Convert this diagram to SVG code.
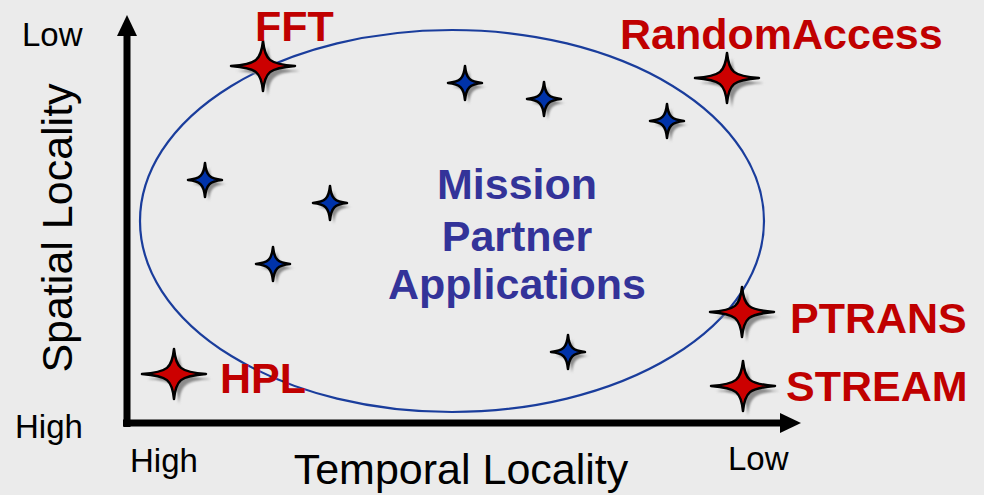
<svg xmlns="http://www.w3.org/2000/svg" width="984" height="495" viewBox="0 0 984 495">
  <defs>
    <style>
      .axis-label { font-family: "Liberation Sans", Arial, sans-serif; fill: #000; }
      .bench { font-family: "Liberation Sans", Arial, sans-serif; font-weight: bold; font-size: 43px; fill: #c00000; }
      .mission { font-family: "Liberation Sans", Arial, sans-serif; font-weight: bold; font-size: 43px; fill: #333399; text-anchor: middle; }
      .star-big { fill: #cc0000; stroke: #000; stroke-width: 2.5; stroke-linejoin: round; }
      .star-small { fill: #0033aa; stroke: #000; stroke-width: 2.5; stroke-linejoin: round; }
      .shadow { fill: #8c8c8c; stroke: none; filter: url(#soft); }
    </style>
    <filter id="soft" x="-20%" y="-20%" width="140%" height="140%">
      <feGaussianBlur stdDeviation="1"/>
    </filter>
    <!-- four-pointed concave star shapes -->
    <path id="bigStar" d="M0,-25 C2,-6 6,-2 32,0 C6,2 2,6 0,25 C-2,6 -6,2 -32,0 C-6,-2 -2,-6 0,-25 Z"/>
    <path id="smallStar" d="M0,-17 C1.3,-4.5 4.5,-1.3 17,0 C4.5,1.3 1.3,4.5 0,17 C-1.3,4.5 -4.5,1.3 -17,0 C-4.5,-1.3 -1.3,-4.5 0,-17 Z"/>
  </defs>

  <rect width="984" height="495" fill="#ebebeb"/>

  <!-- application region -->
  <g id="region">
    <ellipse cx="452" cy="221" rx="312" ry="191" fill="none" stroke="#1a3d9c" stroke-width="2.2"/>
  </g>

  <!-- axes -->
  <g id="connectors">
    <path d="M127,427 L127,35" fill="none" stroke="#000" stroke-width="7"/>
    <path d="M117,36 L127,15 L137,36 Z" fill="#000"/>
    <path d="M123,423 L781,423" fill="none" stroke="#000" stroke-width="7"/>
    <path d="M780,413 L801,423 L780,433 Z" fill="#000"/>
  </g>

  <!-- axis labels -->
  <g id="axis-labels">
    <text class="axis-label" x="22" y="46" font-size="33">Low</text>
    <text class="axis-label" x="15" y="438" font-size="33">High</text>
    <text class="axis-label" x="130" y="472" font-size="33">High</text>
    <text class="axis-label" x="728" y="470" font-size="33">Low</text>
    <text class="axis-label" x="461" y="484" font-size="43" text-anchor="middle">Temporal Locality</text>
    <text class="axis-label" transform="translate(72,228) rotate(-90)" font-size="43" text-anchor="middle">Spatial Locality</text>
  </g>

  <!-- benchmark nodes -->
  <g id="fft">
    <use href="#bigStar" class="shadow" x="268" y="71"/>
    <use href="#bigStar" class="star-big" x="263" y="66"/>
    <text class="bench" x="255" y="41">FFT</text>
  </g>
  <g id="randomaccess">
    <use href="#bigStar" class="shadow" x="732" y="83"/>
    <use href="#bigStar" class="star-big" x="727" y="78"/>
    <text class="bench" x="620" y="49">RandomAccess</text>
  </g>
  <g id="ptrans">
    <use href="#bigStar" class="shadow" x="747" y="317"/>
    <use href="#bigStar" class="star-big" x="742" y="312"/>
    <text class="bench" x="790" y="333">PTRANS</text>
  </g>
  <g id="stream">
    <use href="#bigStar" class="shadow" x="748" y="391"/>
    <use href="#bigStar" class="star-big" x="743" y="386"/>
    <text class="bench" x="786" y="401">STREAM</text>
  </g>
  <g id="hpl">
    <use href="#bigStar" class="shadow" x="179" y="379"/>
    <use href="#bigStar" class="star-big" x="174" y="374"/>
    <text class="bench" x="220" y="393">HPL</text>
  </g>

  <!-- mission partner applications -->
  <g id="mission-label">
    <text class="mission" x="517" y="199">Mission</text>
    <text class="mission" x="517" y="251">Partner</text>
    <text class="mission" x="517" y="299">Applications</text>
  </g>
  <g id="app-1">
    <use href="#smallStar" class="shadow" x="209" y="184"/>
    <use href="#smallStar" class="star-small" x="205" y="180"/>
  </g>
  <g id="app-2">
    <use href="#smallStar" class="shadow" x="469" y="87"/>
    <use href="#smallStar" class="star-small" x="465" y="83"/>
  </g>
  <g id="app-3">
    <use href="#smallStar" class="shadow" x="548" y="103"/>
    <use href="#smallStar" class="star-small" x="544" y="99"/>
  </g>
  <g id="app-4">
    <use href="#smallStar" class="shadow" x="671" y="125"/>
    <use href="#smallStar" class="star-small" x="667" y="121"/>
  </g>
  <g id="app-5">
    <use href="#smallStar" class="shadow" x="334" y="207"/>
    <use href="#smallStar" class="star-small" x="330" y="203"/>
  </g>
  <g id="app-6">
    <use href="#smallStar" class="shadow" x="277" y="268"/>
    <use href="#smallStar" class="star-small" x="273" y="264"/>
  </g>
  <g id="app-7">
    <use href="#smallStar" class="shadow" x="572" y="356"/>
    <use href="#smallStar" class="star-small" x="568" y="352"/>
  </g>
</svg>
